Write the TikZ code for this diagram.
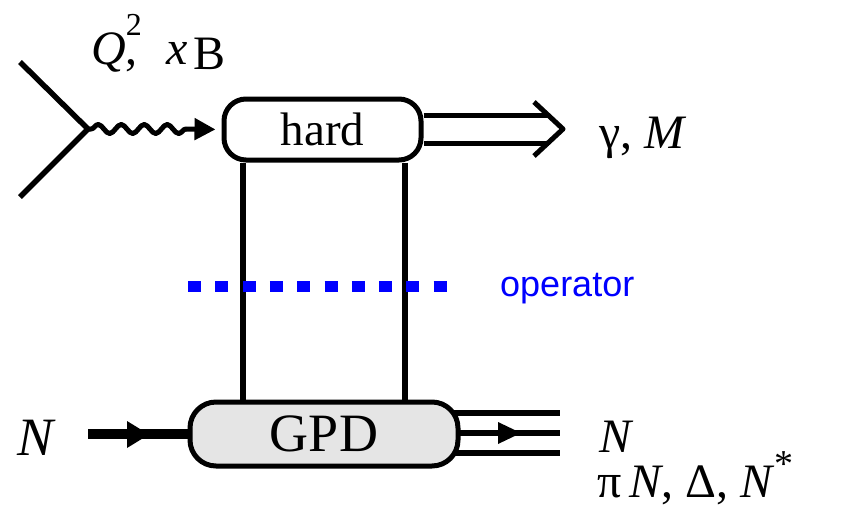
\documentclass[tikz,border=0pt]{standalone}
\usepackage{fontspec}
\setmainfont{Liberation Serif}
\setsansfont{Liberation Sans}
\usetikzlibrary{decorations.pathmorphing,arrows.meta,backgrounds}
\begin{document}
\begin{tikzpicture}[x=1pt,y=-1pt,line join=round,
  big/.style={font=\fontsize{48}{50}\selectfont,inner sep=0pt,anchor=base west},
  thick4/.style={line width=5.5pt},
  blob/.style={draw,line width=5pt,inner sep=0pt}]
\useasboundingbox (0,0) rectangle (845,523);
% boxes
\node[blob,rounded corners=22pt,minimum width=197pt,minimum height=61pt,
      font=\fontsize{47}{48}\selectfont] (hard) at (322.5,129.5) {hard};
\node[blob,fill=black!10,rounded corners=26pt,minimum width=268pt,minimum height=64pt,
      font=\fontsize{54}{56}\selectfont] (gpd) at (324,434) {GPD};
% lepton vertex and photon
\coordinate (e1) at (20,62);
\coordinate (e2) at (20,197);
\coordinate (v) at (88,129);
\coordinate (w) at (186,129);
\draw[thick4] (e1) -- (v) -- (e2);
\draw[line width=5pt,decorate,decoration={snake,amplitude=4.5pt,segment length=23pt,pre length=3pt}] (v) -- (w);
\draw[line width=5pt,-{Triangle[length=21pt,width=21pt]},shorten >=6pt] (w) -- (hard.west);
% vertical lines
\draw[thick4] (243,0 |- hard.south) -- (243,0 |- gpd.north);
\draw[thick4] (405,0 |- hard.south) -- (405,0 |- gpd.north);
% outgoing double arrow
\coordinate (c1) at (534,102);
\coordinate (ct) at (563,129);
\coordinate (c2) at (534,156);
\draw[line width=5pt] (hard.east |- 0,115) -- (549,115);
\draw[line width=5pt] (hard.east |- 0,143) -- (549,143);
\draw[line width=5pt] (c1) -- (ct) -- (c2);
% operator
\coordinate (o1) at (188,286);
\coordinate (o2) at (447,286);
\draw[blue,line width=11pt,dash pattern=on 13pt off 14.3pt] (o1) -- (o2);
\node[inner sep=0pt,anchor=base west,text=blue,font=\sffamily\fontsize{36}{38}\selectfont] (op) at (500,296) {operator};
% incoming nucleon
\node[big,font=\itshape\fontsize{54}{56}\selectfont] (Nin) at (17,455) {N};
\coordinate (n0) at (88,0 |- gpd.west);
\draw[line width=10.5pt] (n0) -- (gpd.west);
\fill (127,421) -- (149,434.5) -- (127,448) -- cycle;
% outgoing lines
\begin{pgfonlayer}{background}
\coordinate (a1) at (440,413);
\coordinate (b1) at (560,413);
\coordinate (a2) at (440,433);
\coordinate (b2) at (560,433);
\coordinate (a3) at (440,453);
\coordinate (b3) at (560,453);
\draw[line width=6pt] (a1) -- (b1);
\draw[line width=6pt] (a2) -- (b2);
\draw[line width=6pt] (a3) -- (b3);
\end{pgfonlayer}
\fill (498,422) -- (521,433) -- (498,444) -- cycle;
% labels
\node[big] (gm) at (599,148) {γ, \textit{M}};
\node[big] (Nout) at (599,452) {\textit{N}};
\node[big] (res) at (597,497) {π\,\textit{N}, Δ, \textit{N}\raisebox{0.42em}{\fontsize{38}{38}\selectfont *}};
\node[big] (qx) at (91,64) {\textit{Q}\rlap{\raisebox{0.6em}{\fontsize{32}{32}\selectfont 2}},\hspace{0.6em}\textit{x}\hspace{0.12em}\raisebox{-0.12em}{B}};
\end{tikzpicture}
\end{document}
